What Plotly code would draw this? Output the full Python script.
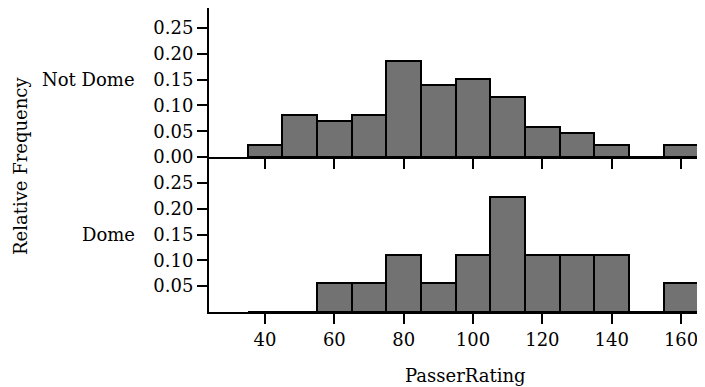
import plotly.graph_objects as go

bin_centers = [40, 50, 60, 70, 80, 90, 100, 110, 120, 130, 140, 150, 160]
not_dome_counts = [2, 7, 6, 7, 16, 12, 13, 10, 5, 4, 2, 0, 2]
dome_counts = [0, 0, 1, 1, 2, 1, 2, 4, 2, 2, 2, 0, 1]
not_dome_rel = [c / sum(not_dome_counts) for c in not_dome_counts]
dome_rel = [c / sum(dome_counts) for c in dome_counts]

x_ticks = [40, 60, 80, 100, 120, 140, 160]
top_y_ticks = [0.00, 0.05, 0.10, 0.15, 0.20, 0.25]
bottom_y_ticks = [0.05, 0.10, 0.15, 0.20, 0.25]

FONT = "DejaVu Serif"
FS = 18
BAR_COLOR = "#727272"

fig = go.Figure()
fig.add_trace(go.Bar(x=bin_centers, y=not_dome_rel, width=10,
                     marker=dict(color=BAR_COLOR, line=dict(color="black", width=2)),
                     xaxis="x2", yaxis="y2", showlegend=False))
fig.add_trace(go.Bar(x=bin_centers, y=dome_rel, width=10,
                     marker=dict(color=BAR_COLOR, line=dict(color="black", width=2)),
                     xaxis="x", yaxis="y", showlegend=False))

x_range = [23.85, 166.9]
split = 155 / 304

axis_common = dict(showgrid=False, zeroline=False, showline=True, linecolor="black",
                   linewidth=2, ticks="outside", tickcolor="black", tickwidth=2,
                   ticklen=10)

# page body has an 8px default margin; compensate so the plot lands where the reference has it
OFF = 8
L, T = 209 - OFF, 8 - OFF

fig.update_layout(
    width=705 - OFF, height=387 - OFF,
    margin=dict(l=L, r=0, t=T, b=387 - OFF - (312 - OFF)),
    plot_bgcolor="white", paper_bgcolor="white",
    font=dict(family=FONT, size=FS, color="black"),
    bargap=0,
    xaxis=dict(domain=[0, 1], range=x_range, tickvals=x_ticks, anchor="y",
               **axis_common),
    yaxis=dict(domain=[0, split], range=[0, 0.30], tickvals=bottom_y_ticks,
               tickformat=".2f", anchor="x", **axis_common),
    xaxis2=dict(domain=[0, 1], range=x_range, tickvals=x_ticks, showticklabels=False,
                anchor="y2", matches="x", **axis_common),
    yaxis2=dict(domain=[split, 1], range=[0, 0.289], tickvals=top_y_ticks,
                tickformat=".2f", anchor="x2", **axis_common),
    annotations=[
        dict(text="Not Dome", xref="paper", yref="y2", x=(137 - 209) / 496, y=0.15,
             xanchor="right", yanchor="middle", showarrow=False,
             font=dict(family=FONT, size=FS)),
        dict(text="Dome", xref="paper", yref="y", x=(137 - 209) / 496, y=0.15,
             xanchor="right", yanchor="middle", showarrow=False,
             font=dict(family=FONT, size=FS)),
        dict(text="Relative Frequency", xref="paper", yref="paper",
             x=(20 - 209) / 496, y=(312 - 166) / 304, textangle=-90,
             xanchor="center", yanchor="middle", showarrow=False,
             font=dict(family=FONT, size=FS)),
        dict(text="PasserRating", xref="paper", yref="paper",
             x=(465 - 209) / 496, y=-(375 - 312) / 304,
             xanchor="center", yanchor="middle", showarrow=False,
             font=dict(family=FONT, size=FS)),
    ],
)

fig.write_html("out.html")
